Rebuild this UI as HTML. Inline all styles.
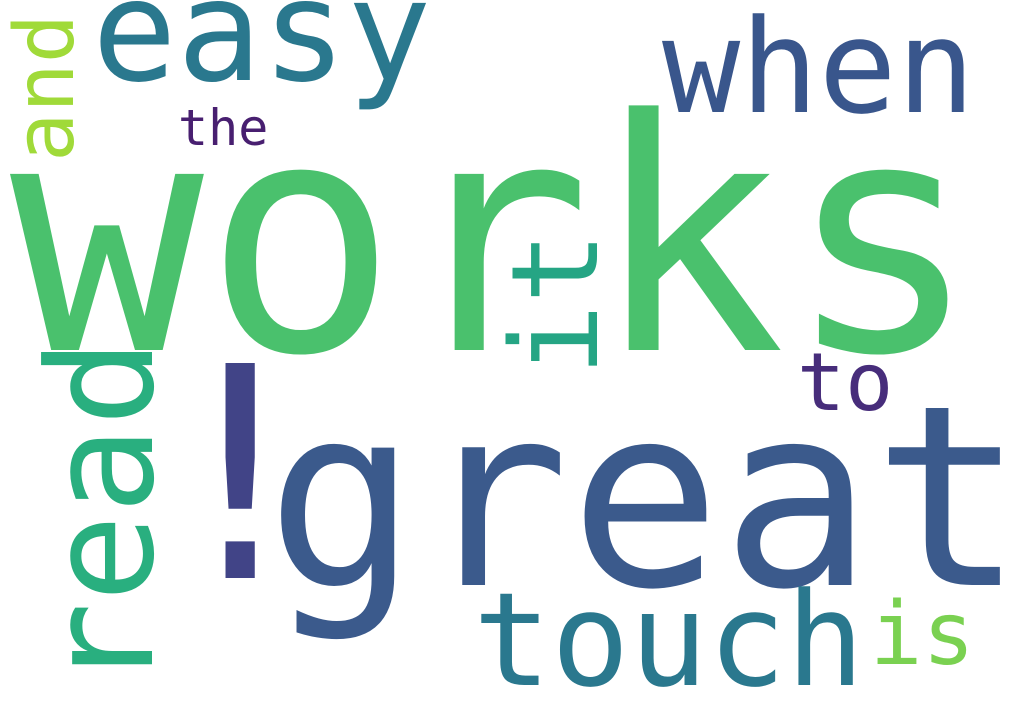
<!DOCTYPE html>
<html><head><meta charset="utf-8"><style>
html,body{margin:0;padding:0;background:#fff;}
svg{display:block;}
text{font-family:"DejaVu Sans Mono","Liberation Mono",monospace;}
</style></head><body>
<svg width="1024" height="720" viewBox="0 0 1024 720" xmlns="http://www.w3.org/2000/svg">
<rect width="1024" height="720" fill="#ffffff"/>
<text x="10" y="350" font-size="322" fill="#4ac16d">works</text>
<text x="266" y="585" font-size="252" fill="#3b5a8c">great</text>
<text x="240" y="578" font-size="295" fill="#414487" text-anchor="middle">!</text>
<text x="92" y="80" font-size="141" fill="#2a788e">easy</text>
<text x="662" y="112" font-size="130" fill="#39568c">when</text>
<text x="178" y="145" font-size="50" fill="#481f70">the</text>
<text transform="translate(73,162) rotate(-90)" font-size="82" fill="#a0da39">and</text>
<text transform="translate(597,376) rotate(-90)" font-size="120" fill="#25a584">it</text>
<text transform="translate(152,690) rotate(-90)" font-size="146" fill="#29af7f">read</text>
<text x="797" y="410" font-size="80" fill="#472d7b">to</text>
<text x="473" y="685" font-size="130" fill="#2a788e">touch</text>
<text x="870" y="664" font-size="87" fill="#7ad151">is</text>
</svg>
</body></html>
